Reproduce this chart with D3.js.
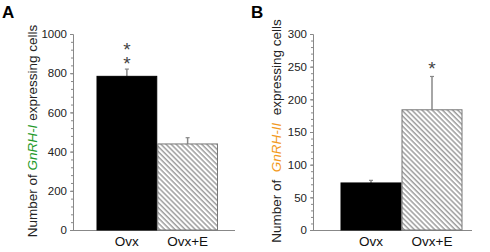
<!DOCTYPE html>
<html>
<head>
<meta charset="UTF-8">
<script src="https://d3js.org/d3.v7.min.js"></script>
<style>
    body { margin: 0; background: #fff; font-family: "Liberation Sans", Arial, sans-serif; }
    .tick text { font-size: 11.5px; fill: #222; }
    .tick line, .domain { stroke: #888; }
    .xlab { font-size: 13.5px; fill: #111; text-anchor: middle; }
    .ylab { font-size: 13.5px; fill: #222; }
    .panel { font-size: 17px; font-weight: bold; fill: #000; }
    .star { font-size: 19px; fill: #444; text-anchor: start; writing-mode: vertical-rl; text-orientation: upright; letter-spacing: -7px; }
</style>
</head>
<body>
<svg id="chart" width="490" height="252"></svg>
<script>
const groups = ["Ovx", "Ovx+E"];

// panel A: GnRH-I
const gnrh1Means = [784, 439];
const gnrh1Errors = [37, 32];
const gnrh1Ticks = [0, 200, 400, 600, 800, 1000];
const gnrh1Stars = ["**", ""];

// panel B: GnRH-II
const gnrh2Means = [72, 184];
const gnrh2Errors = [4, 51];
const gnrh2Ticks = [0, 50, 100, 150, 200, 250, 300];
const gnrh2Stars = ["", "*"];

const svg = d3.select("#chart");

const defs = svg.append("defs");
const pat = defs.append("pattern")
    .attr("id", "hatch")
    .attr("patternUnits", "userSpaceOnUse")
    .attr("width", 3.6).attr("height", 3.6)
    .attr("patternTransform", "rotate(-45)");
pat.append("rect").attr("width", 3.6).attr("height", 3.6).attr("fill", "#fff");
pat.append("line")
    .attr("x1", 1).attr("y1", 0).attr("x2", 1).attr("y2", 3.6)
    .attr("stroke", "#7a7a7a").attr("stroke-width", 1.1);

function panel(opt) {
    const g = svg.append("g");
    const top = 34, bottom = 230;

    const y = d3.scaleLinear().domain([0, opt.max]).range([bottom, top]);
    const x = d3.scaleBand().domain(groups).range([opt.barL, opt.barR]).padding(0);

    // minor ticks
    g.append("g")
        .attr("transform", `translate(${opt.axisX},0)`)
        .call(d3.axisLeft(y).tickValues(d3.range(0, opt.max + 0.001, opt.minor)).tickSize(2).tickFormat(""))
        .call(a => a.select(".domain").remove());

    g.append("g")
        .attr("transform", `translate(${opt.axisX},0)`)
        .call(d3.axisLeft(y).tickValues(opt.ticks).tickFormat(d3.format("d"))
            .tickSize(3).tickSizeOuter(3).tickPadding(3))
        .selectAll("text").style("font-family", "'Liberation Sans', Arial, sans-serif");

    // x axis line
    g.append("line")
        .attr("x1", opt.axisX).attr("x2", opt.axisEnd)
        .attr("y1", bottom + 0.5).attr("y2", bottom + 0.5)
        .attr("stroke", "#888");

    const data = groups.map((k, i) => ({ k, m: opt.means[i], e: opt.errors[i], s: opt.stars[i] }));

    // error bars
    g.selectAll(".err").data(data).enter().append("g").each(function (d) {
        const cx = x(d.k) + x.bandwidth() / 2;
        const e = d3.select(this);
        e.append("line").attr("x1", cx).attr("x2", cx)
            .attr("y1", y(d.m)).attr("y2", y(d.m + d.e))
            .attr("stroke", "#888").attr("stroke-width", 1.5);
        e.append("line").attr("x1", cx - 2).attr("x2", cx + 2)
            .attr("y1", y(d.m + d.e)).attr("y2", y(d.m + d.e))
            .attr("stroke", "#888").attr("stroke-width", 1.2);
    });

    g.selectAll(".bar").data(data).enter().append("rect")
        .attr("x", d => x(d.k) + 0.5)
        .attr("y", d => y(d.m))
        .attr("width", x.bandwidth() - 1)
        .attr("height", d => y(0) - y(d.m))
        .attr("fill", (d, i) => i === 0 ? "#000" : "url(#hatch)")
        .attr("stroke", (d, i) => i === 0 ? "#000" : "#777")
        .attr("stroke-width", 1);

    // significance stars, stacked vertically above the error bar
    data.filter(d => d.s).forEach(d => {
        const cx = x(d.k) + x.bandwidth() / 2;
        const n = d.s.length;
        const topCentre = y(d.m + d.e) - 13 - (n - 1) * 12;
        g.append("text").attr("class", "star")
            .attr("x", cx)
            .attr("y", topCentre - 5)
            .text(d.s);
    });

    g.selectAll(".xlab").data(groups).enter().append("text")
        .attr("class", "xlab")
        .attr("x", d => x(d) + x.bandwidth() / 2)
        .attr("y", 246)
        .text(d => d);

    const yl = g.append("text").attr("class", "ylab")
        .attr("transform", `translate(${opt.labelX},${opt.labelY}) rotate(-90)`)
        .attr("text-anchor", "middle")
        .attr("xml:space", "preserve");
    yl.append("tspan").text(opt.pre);
    yl.append("tspan").attr("font-style", "italic").attr("fill", opt.color).text(opt.gene);
    yl.append("tspan").text(opt.post);

    g.append("text").attr("class", "panel")
        .attr("x", opt.letterX).attr("y", 18).text(opt.letter);
}

panel({
    max: 1000, minor: 40, ticks: gnrh1Ticks,
    means: gnrh1Means, errors: gnrh1Errors, stars: gnrh1Stars,
    axisX: 73, axisEnd: 235, barL: 96.5, barR: 218,
    labelX: 37, labelY: 131,
    pre: "Number of ", gene: "GnRH-I", post: " expressing cells", color: "#1f9a2a",
    letter: "A", letterX: 2
});

panel({
    max: 300, minor: 10, ticks: gnrh2Ticks,
    means: gnrh2Means, errors: gnrh2Errors, stars: gnrh2Stars,
    axisX: 313, axisEnd: 472, barL: 340.5, barR: 462.5,
    labelX: 281, labelY: 131,
    pre: "Number of  ", gene: "GnRH-II", post: "  expressing cells", color: "#f29a1d",
    letter: "B", letterX: 251
});
</script>
</body>
</html>
